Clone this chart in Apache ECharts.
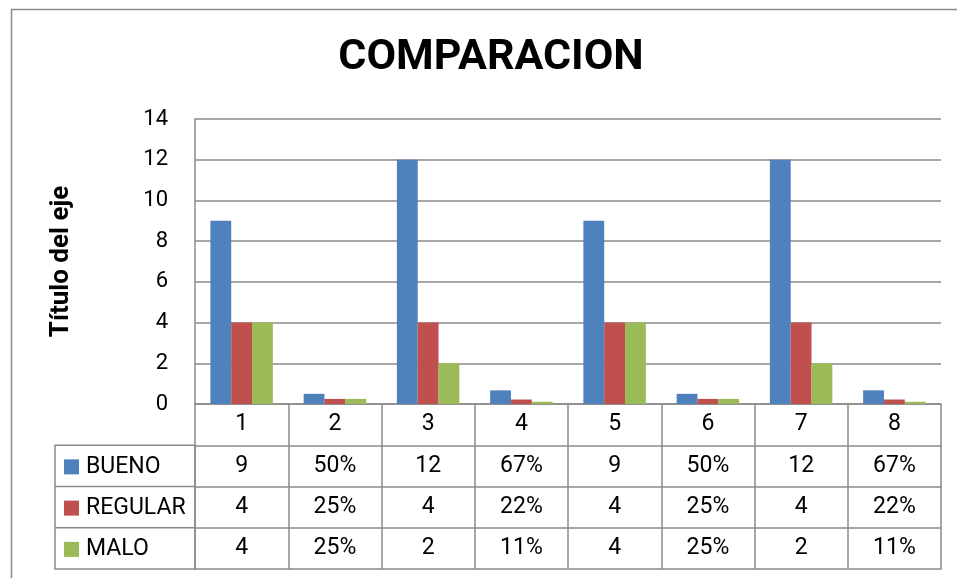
<!DOCTYPE html>
<html>
<head>
<meta charset="utf-8">
<script src="https://cdn.jsdelivr.net/npm/echarts@6/dist/echarts.min.js"></script>
<style>
  html, body { margin: 0; padding: 0; background: #fff; }
  #chart { width: 957px; height: 578px; }
</style>
</head>
<body>
<div id="chart"></div>
<script>
// datos
const categorias = ['1', '2', '3', '4', '5', '6', '7', '8']
const bueno = [9, 0.5, 12, 0.67, 9, 0.5, 12, 0.67]
const regular = [4, 0.25, 4, 0.22, 4, 0.25, 4, 0.22]
const malo = [4, 0.25, 2, 0.11, 4, 0.25, 2, 0.11]
const yTicks = [0, 2, 4, 6, 8, 10, 12, 14]

const FONT = 'Roboto'
const GRIS = '#8a8a8a'
const plotLeft = 195, plotRight = 941, plotTop = 119, plotBottom = 404
const rowH = 41.25
const legendLeft = 55

// 0.5 -> 50%, 9 -> 9
function celda(v) {
  return v < 1 ? Math.round(v * 100) + '%' : String(v)
}

const series = [
  { name: 'BUENO', data: bueno, color: '#4F81BD' },
  { name: 'REGULAR', data: regular, color: '#C0504D' },
  { name: 'MALO', data: malo, color: '#9BBB59' }
]

// ejes x: fila de categorias + una fila por serie + linea final
const tableRows = [categorias].concat(series.map(s => s.data.map(celda)))
const xAxes = tableRows.map((row, i) => ({
  type: 'category',
  data: row,
  position: 'bottom',
  offset: i * rowH,
  axisLine: { show: true, lineStyle: { color: GRIS, width: 1.5 } },
  axisTick: { show: true, length: rowH, inside: false, lineStyle: { color: GRIS, width: 1.5 } },
  axisLabel: {
    show: true, interval: 0, margin: 9, color: '#000',
    fontFamily: FONT, fontSize: 23, lineHeight: 23
  },
  splitLine: { show: false }
}))
xAxes.push({
  type: 'category',
  data: categorias,
  position: 'bottom',
  offset: tableRows.length * rowH,
  axisLine: { show: true, lineStyle: { color: GRIS, width: 1.5 } },
  axisTick: { show: false },
  axisLabel: { show: false }
})

const legends = series.map((s, i) => ({
  data: [s.name],
  orient: 'horizontal',
  left: 64,
  top: plotBottom + rowH * (i + 1.5) - 10.5,
  padding: 0,
  icon: 'rect',
  itemWidth: 15,
  itemHeight: 15,
  selectedMode: false,
  textStyle: { color: '#000', fontFamily: FONT, fontSize: 23, lineHeight: 15, padding: [0, 0, 0, 2] }
}))

// caja de la columna de leyenda
const tableTop = plotBottom + rowH
const tableBottom = plotBottom + rowH * 4
const graphics = [
  {
    type: 'rect', left: 9, top: 7, silent: true,
    shape: { x: 0, y: 0, width: 1000, height: 1000 },
    style: { fill: null, stroke: GRIS, lineWidth: 1.5 }
  },
  {
    type: 'rect', silent: true,
    shape: { x: legendLeft, y: tableTop, width: plotLeft - legendLeft, height: tableBottom - tableTop },
    style: { fill: null, stroke: GRIS, lineWidth: 1.5 }
  }
]
for (let i = 1; i < 3; i++) {
  graphics.push({
    type: 'line', silent: true,
    shape: { x1: legendLeft, y1: tableTop + rowH * i, x2: plotLeft, y2: tableTop + rowH * i },
    style: { stroke: GRIS, lineWidth: 1.5 }
  })
}

const chart = echarts.init(document.getElementById('chart'))
chart.setOption({
  backgroundColor: '#fff',
  animation: false,
  title: {
    text: 'COMPARACION',
    left: 486,
    textAlign: 'center',
    top: 32,
    textStyle: { fontFamily: FONT, fontWeight: 'bold', fontSize: 43, color: '#000' }
  },
  legend: legends,
  grid: {
    left: plotLeft,
    right: 957 - plotRight,
    top: plotTop,
    bottom: 578 - plotBottom,
    containLabel: false
  },
  xAxis: xAxes,
  yAxis: {
    type: 'value',
    min: yTicks[0],
    max: yTicks[yTicks.length - 1],
    interval: 2,
    name: 'Título del eje',
    nameLocation: 'middle',
    nameRotate: 90,
    nameGap: 121,
    nameTextStyle: { fontFamily: FONT, fontWeight: 'bold', fontSize: 26, color: '#000' },
    axisLine: { show: true, lineStyle: { color: GRIS, width: 1.5 } },
    axisTick: { show: false },
    axisLabel: { margin: 27, color: '#000', fontFamily: FONT, fontSize: 22 },
    splitLine: { show: true, lineStyle: { color: GRIS, width: 1.5 } }
  },
  series: series.map(s => ({
    name: s.name,
    type: 'bar',
    xAxisIndex: 0,
    data: s.data,
    barGap: '0%',
    barCategoryGap: '33%',
    itemStyle: { color: s.color }
  })),
  graphic: graphics
})
</script>
</body>
</html>
